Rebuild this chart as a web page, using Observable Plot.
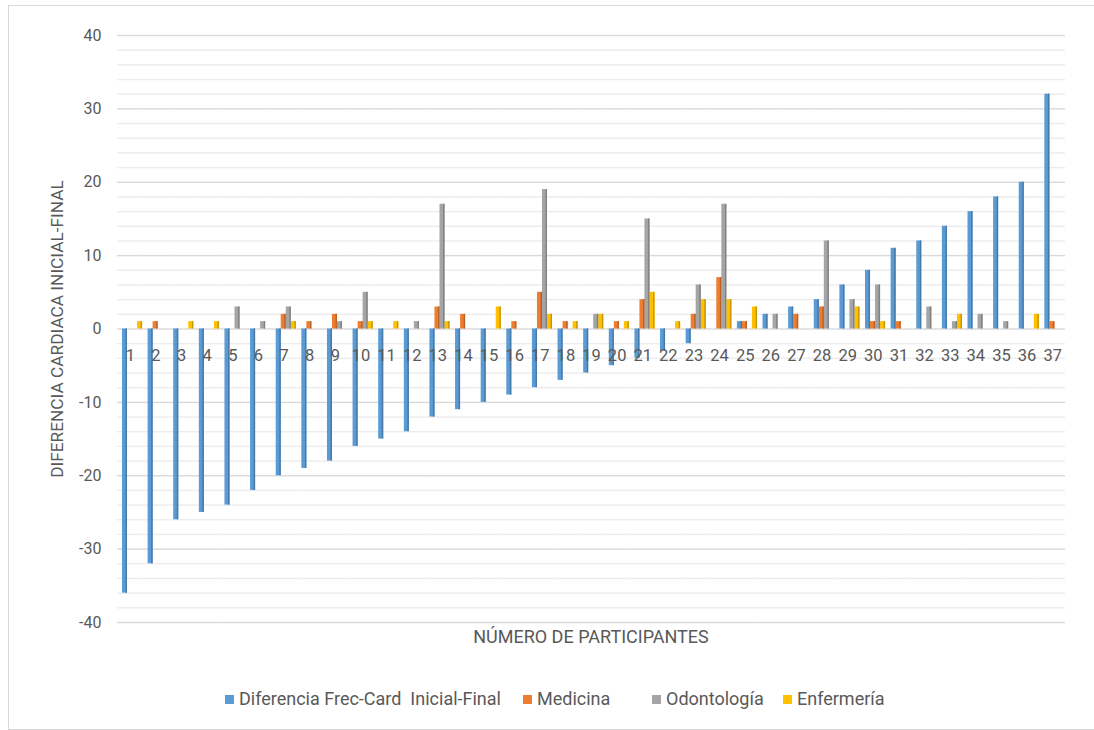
<!DOCTYPE html>
<html>
<head>
<meta charset="utf-8">
<script src="https://cdn.jsdelivr.net/npm/d3@7"></script>
<script src="https://cdn.jsdelivr.net/npm/@observablehq/plot@0.6"></script>
<style>
  html, body { margin: 0; padding: 0; background: #fff; overflow: hidden; }
  #wrap { position: relative; width: 1094px; height: 730px; font-family: Roboto, "Liberation Sans", sans-serif; color: #595959; }
  #border { position: absolute; left: 8px; top: 5px; width: 1100px; height: 723px; border: 1px solid #d9d9d9; }
  #chart { position: absolute; left: 0; top: 0; }
  #xtitle { position: absolute; top: 626px; left: 391px; width: 400px; text-align: center; font-size: 18px; line-height: 22px; }
  #legend { position: absolute; top: 688px; left: 0; width: 1094px; height: 22px; font-size: 18px; }
  .item { position: absolute; top: 0; white-space: pre; line-height: 22px; }
  .sw { display: inline-block; width: 9px; height: 9px; margin-right: 5px; vertical-align: 1px; }
</style>
</head>
<body>
<div id="wrap">
  <div id="border"></div>
  <div id="chart"></div>
  <div id="xtitle">NÚMERO DE PARTICIPANTES</div>
  <div id="legend"></div>
</div>
<script>
// Participants 1..37
const participants = d3.range(1, 38);

// Series names and colours
const seriesNames = ["Diferencia Frec-Card  Inicial-Final", "Medicina", "Odontología", "Enfermería"];
const seriesColors = ["#5B9BD5", "#ED7D31", "#A5A5A5", "#FFC000"];

// Heart-rate difference (initial - final) per participant
const diferencia = [-36, -32, -26, -25, -24, -22, -20, -19, -18, -16, -15, -14, -12, -11, -10, -9, -8, -7, -6, -5, -4, -3, -2, 0, 1, 2, 3, 4, 6, 8, 11, 12, 14, 16, 18, 20, 32];
const medicina    = [0, 1, 0, 0, 0, 0, 2, 1, 2, 1, 0, 0, 3, 2, 0, 1, 5, 1, 0, 1, 4, 0, 2, 7, 1, 0, 2, 3, 0, 1, 1, 0, 0, 0, 0, 0, 1];
const odontologia = [0, 0, 0, 0, 3, 1, 3, 0, 1, 5, 0, 1, 17, 0, 0, 0, 19, 0, 2, 0, 15, 0, 6, 17, 0, 2, 0, 12, 4, 6, 0, 3, 1, 2, 1, 0, 0];
const enfermeria  = [1, 0, 1, 1, 0, 0, 1, 0, 0, 1, 1, 0, 1, 0, 3, 0, 2, 1, 2, 1, 5, 1, 4, 4, 3, 0, 0, 0, 3, 1, 0, 0, 2, 0, 0, 2, 0];

// Y axis ticks and gridlines
const yTicks = [-40, -30, -20, -10, 0, 10, 20, 30, 40];
const minorGrid = d3.range(-40, 41, 2).filter(v => v % 10 !== 0);

const seriesValues = [diferencia, medicina, odontologia, enfermeria];
const rows = [];
participants.forEach((p, i) => {
  seriesNames.forEach((s, k) => rows.push({p, s, v: seriesValues[k][i]}));
});
const sideColor = new Map(seriesNames.map((s, k) => [s, d3.color(seriesColors[k]).darker(0.7).formatHex()]));

const chart = Plot.plot({
  width: 1094,
  height: 640,
  marginTop: 35,
  marginBottom: 18,
  marginLeft: 117,
  marginRight: 29,
  style: {fontFamily: "Roboto, 'Liberation Sans', sans-serif", fontSize: "16px", color: "#595959", background: "transparent"},
  fx: {domain: participants, paddingInner: 0, paddingOuter: 0, round: false, axis: null},
  x: {domain: seriesNames, paddingInner: 0, paddingOuter: 0.55, align: 0.9, round: false, axis: null},
  y: {
    domain: [-40, 40],
    ticks: yTicks,
    tickFormat: d => String(d),
    tickSize: 0,
    tickPadding: 16,
    label: "DIFERENCIA CARDIACA INICIAL-FINAL",
    labelAnchor: "center",
    labelOffset: 67,
    labelArrow: "none"
  },
  color: {domain: seriesNames, range: seriesColors},
  marks: [
    Plot.ruleY(minorGrid, {stroke: "#ececec", strokeWidth: 1.4}),
    Plot.ruleY(yTicks, {stroke: "#d9d9d9", strokeWidth: 1.4}),
    Plot.barY(rows, {fx: "p", x: "s", y: "v", fill: "s"}),
    Plot.barY(rows, {fx: "p", x: "s", y: "v", fill: d => sideColor.get(d.s), insetLeft: 3.6}),
    // participant numbers sit just below the zero line, over the bars
    Plot.text(participants, {fx: d => d, y: 0, text: d => String(d), dy: 27, fill: "#595959", fontSize: 16.5})
  ]
});
// the rotated y-axis title is a bit larger than the tick labels
chart.querySelectorAll("text").forEach(t => {
  if (t.textContent === "DIFERENCIA CARDIACA INICIAL-FINAL") t.setAttribute("font-size", "17.3px");
});
document.getElementById("chart").appendChild(chart);

// Legend below the chart
const legendX = [225, 523, 652, 783];
const legend = document.getElementById("legend");
seriesNames.forEach((s, k) => {
  const item = document.createElement("div");
  item.className = "item";
  item.style.left = legendX[k] + "px";
  item.innerHTML = `<span class="sw" style="background:${seriesColors[k]}"></span>${s}`;
  legend.appendChild(item);
});
</script>
</body>
</html>
